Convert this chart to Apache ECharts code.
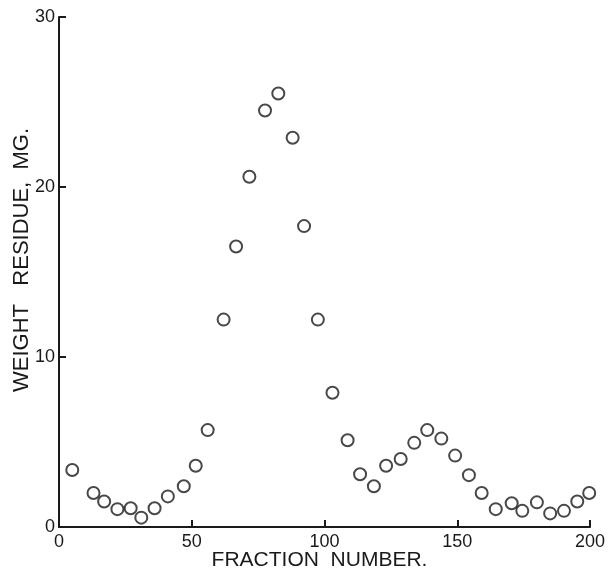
<!DOCTYPE html>
<html>
<head>
<meta charset="utf-8">
<script src="https://cdn.jsdelivr.net/npm/echarts@6/dist/echarts.min.js"></script>
<style>
  html, body { margin: 0; padding: 0; background: #fff; }
  #chart { width: 609px; height: 570px; }
</style>
</head>
<body>
<div id="chart"></div>
<script>
// fraction numbers and weights
const fraction = [5, 13, 17, 22, 27, 31, 36, 41, 47, 51.5, 56, 62, 66.7, 71.7, 77.6, 82.6, 88, 92.3, 97.5,
  103, 108.7, 113.4, 118.6, 123.2, 128.7, 133.8, 138.7, 144, 149.2, 154.4, 159.2, 164.5, 170.5, 174.5,
  180, 185, 190.2, 195.2, 199.7];
const weight = [3.35, 2.0, 1.5, 1.05, 1.1, 0.55, 1.1, 1.8, 2.4, 3.6, 5.7, 12.2, 16.5, 20.6, 24.5, 25.5, 22.9, 17.7, 12.2,
  7.9, 5.1, 3.1, 2.4, 3.6, 4.0, 4.95, 5.7, 5.2, 4.2, 3.05, 2.0, 1.05, 1.4, 0.95,
  1.45, 0.8, 0.95, 1.5, 2.0];
const xTicks = [0, 50, 100, 150, 200];
const yTicks = [0, 10, 20, 30];

const font = 'Liberation Sans';
const ink = '#1a1a1a';
const chart = echarts.init(document.getElementById('chart'));
chart.setOption({
  animation: false,
  backgroundColor: '#fff',
  grid: { left: 59, right: 19, top: 17, bottom: 43, containLabel: false, outerBoundsMode: 'none' },
  xAxis: {
    type: 'value',
    min: xTicks[0],
    max: xTicks[xTicks.length - 1],
    interval: 50,
    name: 'FRACTION  NUMBER.',
    nameLocation: 'middle',
    nameGap: 23,
    nameMoveOverlap: false,
    nameTextStyle: { color: ink, fontFamily: font, fontSize: 21, letterSpacing: 3.8, padding: [0, 10, 0, 0] },
    axisLine: { lineStyle: { color: ink, width: 2 } },
    axisTick: { inside: true, length: 7, lineStyle: { color: ink, width: 2 } },
    axisLabel: { color: ink, fontFamily: font, fontSize: 18, margin: 6, letterSpacing: 1 },
    splitLine: { show: false },
  },
  yAxis: {
    type: 'value',
    min: yTicks[0],
    max: yTicks[yTicks.length - 1],
    interval: 10,
    name: 'WEIGHT   RESIDUE,  MG.',
    nameLocation: 'middle',
    nameGap: 26,
    nameMoveOverlap: false,
    nameTextStyle: { color: ink, fontFamily: font, fontSize: 22, letterSpacing: 4.4, padding: [0, 0, 0, 24] },
    axisLine: { lineStyle: { color: ink, width: 2 } },
    axisTick: { inside: true, length: 7, lineStyle: { color: ink, width: 2 } },
    axisLabel: { color: ink, fontFamily: font, fontSize: 18, margin: 4, letterSpacing: 1 },
    splitLine: { show: false },
  },
  series: [{
    type: 'scatter',
    symbol: 'circle',
    symbolSize: 12,
    itemStyle: { color: '#fff', borderColor: ink, borderWidth: 2 },
    data: fraction.map((x, i) => [x, weight[i]]),
  }],
});
</script>
</body>
</html>
